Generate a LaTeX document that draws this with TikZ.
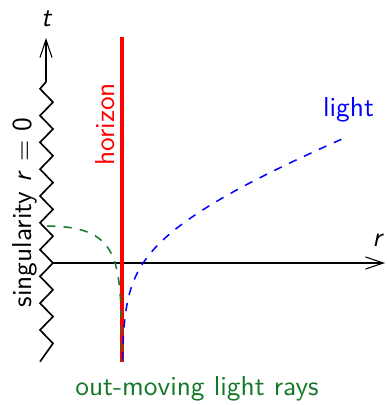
\documentclass[tikz,border=0pt]{standalone}
\usetikzlibrary{arrows.meta}
\definecolor{dgreen}{RGB}{20,120,40}
\begin{document}
\begin{tikzpicture}[x=0.365pt,y=-0.365pt,
  axisline/.style={line width=0.4pt,-{Straight Barb[length=6.5pt,width=4.4pt]}},
  zig/.style={line width=0.6pt,line join=miter},
  horizonline/.style={red,line width=1.1pt},
  lightray/.style={line width=0.55pt,dashed},
  lbl/.style={font=\sffamily,inner sep=0pt}]
\useasboundingbox (0,0) rectangle (386,405);
% coordinates
\coordinate (ttop) at (46,82);
\coordinate (tend) at (46,38);
\coordinate (rstart) at (53,263);
\coordinate (rend) at (385,263);
\coordinate (htop) at (122,37);
\coordinate (hbot) at (122,362);
% axes
\draw[axisline] (rstart) -- (rend);
\draw[axisline] (ttop) -- (tend);
% singularity zigzag
\draw[zig] (ttop)
  -- (40,88.8) -- (53,102.2) -- (40,115.6) -- (53,129) -- (40,142.4)
  -- (53,155.8) -- (40,169.2) -- (53,182.6) -- (40,196) -- (53,209.4)
  -- (40,222.8) -- (53,236.2) -- (40,249.6) -- (rstart) -- (40,276.4)
  -- (53,289.8) -- (40,303.2) -- (53,316.6) -- (40,330) -- (53,343.4)
  -- (40,361.7);
% horizon
\draw[horizonline] (htop) -- (hbot);
% light rays
\draw[lightray,blue] plot[domain=-4.9:1.095,samples=120,smooth]
  ({46+76*(1+exp(\x))},{263-25*(1+exp(\x)+\x)});
\draw[lightray,dgreen] plot[domain=-0.015:-6.4,samples=120,smooth]
  ({46+76*(1-exp(\x))},{263-25*(1-exp(\x)+\x+1.48)});
% labels
\node[lbl] (tl) at (46,19) {\itshape t};
\node[lbl] (rl) at (377,240) {\itshape r};
\node[lbl,blue,anchor=base] (ll) at (348.5,117) {light};
\node[lbl,red,anchor=base,rotate=90] (hl) at (114,124.5) {horizon};
\node[lbl,anchor=base,rotate=90] (sl) at (31.5,212.5) {singularity \textit{r} $=$ 0};
\node[lbl,dgreen,anchor=base] (ol) at (197,395) {out-moving light rays};
\end{tikzpicture}
\end{document}
